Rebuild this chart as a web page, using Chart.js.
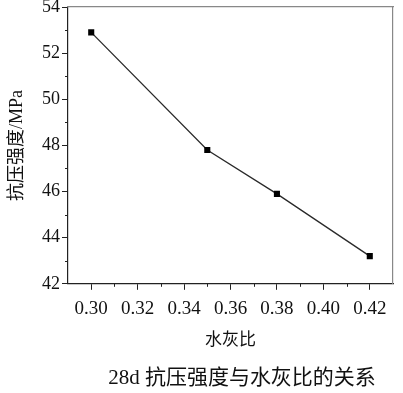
<!DOCTYPE html>
<html>
<head>
<meta charset="utf-8">
<script src="https://cdn.jsdelivr.net/npm/chart.js@4.4.0/dist/chart.umd.min.js"></script>
<style>
html, body { margin: 0; padding: 0; background: #fff; }
</style>
</head>
<body>
<canvas id="myChart" width="403" height="393"></canvas>
<script>
// data
var ratio = [0.30, 0.35, 0.38, 0.42];
var strength = [52.9, 47.8, 45.9, 43.2];

var xTicks = [0.30, 0.32, 0.34, 0.36, 0.38, 0.40, 0.42];
var xMinor = [0.31, 0.33, 0.35, 0.37, 0.39, 0.41];
var yTicks = [42, 44, 46, 48, 50, 52, 54];
var yMinor = [43, 45, 47, 49, 51, 53];

var axisColor = '#222';
var frameColor = '#888';
var serif = '"Liberation Serif", "Noto Sans CJK SC"';

// short minor ticks between the labelled ones
var minorTicks = {
	id: 'minorTicks',
	afterDraw: function(chart){
		var ctx = chart.ctx;
		var xs = chart.scales.x, ys = chart.scales.y;
		ctx.save();
		ctx.strokeStyle = axisColor;
		ctx.lineWidth = 1;
		ctx.beginPath();
		xMinor.forEach(function(v){
			var px = Math.round(xs.getPixelForValue(v)) + 0.5;
			ctx.moveTo(px, xs.top);
			ctx.lineTo(px, xs.top + 3);
		});
		yMinor.forEach(function(v){
			var py = Math.round(ys.getPixelForValue(v)) + 0.5;
			ctx.moveTo(ys.right, py);
			ctx.lineTo(ys.right - 3, py);
		});
		ctx.stroke();
		ctx.restore();
	}
};

// caption sits a bit right of the canvas centre
var shiftCaption = {
	id: 'shiftCaption',
	afterLayout: function(chart){
		if (chart.titleBlock) chart.titleBlock.left = 91;
	}
};

new Chart(document.getElementById('myChart'), {
	type: 'line',
	data: {
		datasets: [{
			data: ratio.map(function(r, i){ return {x: r, y: strength[i]}; }),
			borderColor: '#2a2a2a',
			borderWidth: 1.3,
			pointStyle: 'rect',
			pointRadius: 4.3,
			pointBackgroundColor: '#000',
			pointBorderColor: '#000',
			pointBorderWidth: 0,
			tension: 0
		}]
	},
	options: {
		responsive: false,
		animation: false,
		layout: { padding: { top: 7, right: 10, left: 0, bottom: 0 } },
		plugins: {
			legend: { display: false },
			tooltip: { enabled: false },
			title: {
				display: true,
				position: 'bottom',
				text: '28d 抗压强度与水灰比的关系',
				color: '#111',
				font: { family: serif, size: 21, weight: 'normal' },
				padding: { top: 12, bottom: 2 }
			}
		},
		scales: {
			x: {
				type: 'linear',
				position: 'bottom',
				min: 0.29,
				max: 0.43,
				afterBuildTicks: function(s){ s.ticks = xTicks.map(function(v){ return {value: v}; }); },
				ticks: {
					callback: function(v){ return Number(v).toFixed(2); },
					color: '#111',
					font: { family: serif, size: 19 },
					padding: 8,
					maxRotation: 0,
					autoSkip: false
				},
				grid: { drawOnChartArea: false, tickLength: 6, color: axisColor, tickColor: axisColor },
				border: { color: axisColor, width: 1.2 },
				title: {
					display: true,
					text: '水灰比',
					color: '#111',
					font: { family: '"Noto Sans CJK SC"', size: 17 },
					padding: { top: 0, bottom: 5 }
				},
				afterFit: function(s){ s.height = 70; s.paddingLeft = 0; s.paddingRight = 0; }
			},
			y: {
				type: 'linear',
				position: 'left',
				min: 42,
				max: 54,
				afterBuildTicks: function(s){ s.ticks = yTicks.map(function(v){ return {value: v}; }); },
				ticks: {
					color: '#111',
					font: { family: serif, size: 18 },
					padding: 2
				},
				grid: { drawOnChartArea: false, tickLength: 6, color: axisColor, tickColor: axisColor },
				border: { color: axisColor, width: 1.2 },
				title: {
					display: true,
					text: '抗压强度/MPa',
					color: '#111',
					font: { family: serif, size: 18 },
					padding: { top: 6, bottom: 0 }
				},
				afterFit: function(s){ s.width = 68; s.paddingTop = 0; s.paddingBottom = 0; }
			},
			xTop: {
				type: 'linear',
				position: 'top',
				display: true,
				min: 0.29,
				max: 0.43,
				ticks: { display: false },
				grid: { display: false, drawTicks: false },
				border: { color: frameColor, width: 1.2 },
				afterFit: function(s){ s.height = 0; s.paddingLeft = 0; s.paddingRight = 0; }
			},
			yRight: {
				type: 'linear',
				position: 'right',
				display: true,
				min: 42,
				max: 54,
				ticks: { display: false },
				grid: { display: false, drawTicks: false },
				border: { color: frameColor, width: 1.2 },
				afterFit: function(s){ s.width = 0; s.paddingTop = 0; s.paddingBottom = 0; }
			}
		}
	},
	plugins: [minorTicks, shiftCaption]
});
</script>
</body>
</html>
